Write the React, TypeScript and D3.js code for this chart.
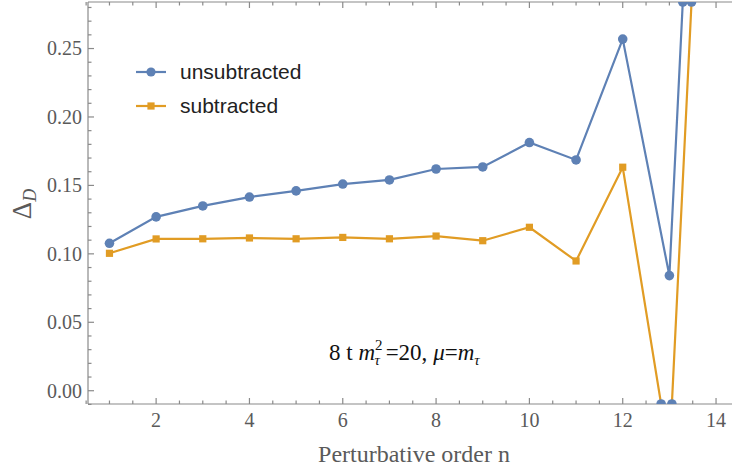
import * as d3 from "d3"

const orders = [1, 2, 3, 4, 5, 6, 7, 8, 9, 10, 11, 12, 13, 14]
const unsubtracted = [0.1077, 0.127, 0.135, 0.1415, 0.146, 0.151, 0.154, 0.162, 0.1635, 0.1813, 0.1686, 0.2569, 0.0841, 0.78]
const subtracted = [0.1004, 0.1109, 0.111, 0.1116, 0.111, 0.112, 0.111, 0.113, 0.1096, 0.1194, 0.0948, 0.1633, -0.047, 0.65]
const yTickValues = [0, 0.05, 0.1, 0.15, 0.2, 0.25]
const xTickValues = [2, 4, 6, 8, 10, 12, 14]

const W = 732
const H = 472
const BLUE = "#5e81b5"
const ORANGE = "#e19c24"
const FRAME = "#8a8a8a"
const LABEL = "#5a5a5a"

const x = d3.scaleLinear().domain([0.54, 14.5]).range([88, 88 + (14.5 - 0.54) * 46.66])
const y = d3.scaleLinear().domain([-0.0097, 0.284]).range([404, 2])

const [x0, x1] = x.range()
const [yb, yt] = y.range()

// minor ticks
const xMinor = d3.range(0.5, 14.51, 0.5).filter((v) => Math.abs(v / 2 - Math.round(v / 2)) > 1e-6)
const yMinor = d3.range(-0.01, 0.285, 0.01).filter((v) => Math.abs(v / 0.05 - Math.round(v / 0.05)) > 1e-6)

// where a series leaves the plot range, Mathematica leaves a marker on the edge
function edgeHits(vals: number[]) {
  const [lo, hi] = y.domain()
  const hits: { n: number; v: number }[] = []
  for (let i = 0; i < vals.length - 1; i++) {
    const a = vals[i]
    const b = vals[i + 1]
    for (const edge of [lo, hi]) {
      if ((a - edge) * (b - edge) < 0) {
        const t = (edge - a) / (b - a)
        hits.push({ n: orders[i] + t, v: edge })
      }
    }
  }
  return hits
}

export default function App() {
  const line = d3
    .line<number>()
    .x((_, i) => x(orders[i]))
    .y((d) => y(d))

  const hits = [...edgeHits(unsubtracted), ...edgeHits(subtracted)]

  return (
    <svg
      width={W}
      height={H}
      style={{ position: "absolute", left: 0, top: 0, background: "#fff" }}
    >
      <defs>
        <clipPath id="plot">
          <rect x={x0} y={yt} width={x1 - x0} height={yb - yt} />
        </clipPath>
      </defs>

      {/* frame */}
      <g stroke={FRAME} strokeWidth={1.2} fill="none">
        <line x1={x0} x2={x0} y1={yt} y2={yb} />
        <line x1={x0} x2={x1} y1={yb} y2={yb} />
        <line x1={x0} x2={x1} y1={yt} y2={yt} />
        {xTickValues.map((v) => (
          <g key={"xt" + v}>
            <line x1={x(v)} x2={x(v)} y1={yb} y2={yb - 6} />
            <line x1={x(v)} x2={x(v)} y1={yt} y2={yt + 6} />
          </g>
        ))}
        {xMinor.map((v) => (
          <g key={"xm" + v}>
            <line x1={x(v)} x2={x(v)} y1={yb} y2={yb - 3.5} />
            <line x1={x(v)} x2={x(v)} y1={yt} y2={yt + 3.5} />
          </g>
        ))}
        {yTickValues.map((v) => (
          <line key={"yt" + v} x1={x0} x2={x0 + 6} y1={y(v)} y2={y(v)} />
        ))}
        {yMinor.map((v) => (
          <line key={"ym" + v} x1={x0} x2={x0 + 3.5} y1={y(v)} y2={y(v)} />
        ))}
      </g>

      {/* tick labels */}
      <g fontFamily="Liberation Serif, serif" fontSize={20} fill={LABEL}>
        {yTickValues.map((v) => (
          <text key={"yl" + v} x={82} y={y(v)} dy="0.34em" textAnchor="end">
            {v.toFixed(2)}
          </text>
        ))}
        {xTickValues.map((v) => (
          <text key={"xl" + v} x={x(v)} y={427} textAnchor="middle">
            {v}
          </text>
        ))}
        <text x={414} y={462} textAnchor="middle" fontSize={24}>
          Perturbative order n
        </text>
        <text transform={`translate(31,${204}) rotate(-90)`} textAnchor="middle" fontSize={27}>
          Δ
          <tspan fontStyle="italic" fontSize={18} dy={5}>
            D
          </tspan>
        </text>
      </g>

      {/* data */}
      <g clipPath="url(#plot)">
        <path d={line(unsubtracted) ?? ""} fill="none" stroke={BLUE} strokeWidth={2.2} />
        <path d={line(subtracted) ?? ""} fill="none" stroke={ORANGE} strokeWidth={2.2} />
        {subtracted.map((v, i) => (
          <rect key={"s" + i} x={x(orders[i]) - 3.6} y={y(v) - 3.6} width={7.2} height={7.2} fill={ORANGE} />
        ))}
        {unsubtracted.map((v, i) => (
          <circle key={"u" + i} cx={x(orders[i])} cy={y(v)} r={4.8} fill={BLUE} />
        ))}
        {hits.map((h, i) => (
          <circle key={"h" + i} cx={x(h.n)} cy={y(h.v)} r={4.8} fill={BLUE} />
        ))}
      </g>

      {/* legend */}
      <g fontFamily="Liberation Sans, Arial, sans-serif" fontSize={21} fill="#222">
        <line x1={136} x2={166} y1={72} y2={72} stroke={BLUE} strokeWidth={2.2} />
        <circle cx={151} cy={72} r={4.6} fill={BLUE} />
        <text x={180} y={72} dy="0.35em">
          unsubtracted
        </text>
        <line x1={136} x2={166} y1={106} y2={106} stroke={ORANGE} strokeWidth={2.2} />
        <rect x={147.4} y={102.4} width={7.2} height={7.2} fill={ORANGE} />
        <text x={180} y={106} dy="0.35em">
          subtracted
        </text>
      </g>

      {/* annotation */}
      <text x={329} y={360} fontFamily="Liberation Serif, serif" fontSize={23} fill="#111">
        8 t <tspan fontStyle="italic">m</tspan>
        <tspan fontSize={15} dy={-10}>2</tspan>
        <tspan fontSize={15} fontStyle="italic" dx={-8} dy={15}>τ</tspan>
        <tspan dy={-5}> =20, </tspan>
        <tspan fontStyle="italic">μ</tspan>=<tspan fontStyle="italic">m</tspan>
        <tspan fontSize={15} fontStyle="italic" dy={5}>τ</tspan>
      </text>
    </svg>
  )
}
